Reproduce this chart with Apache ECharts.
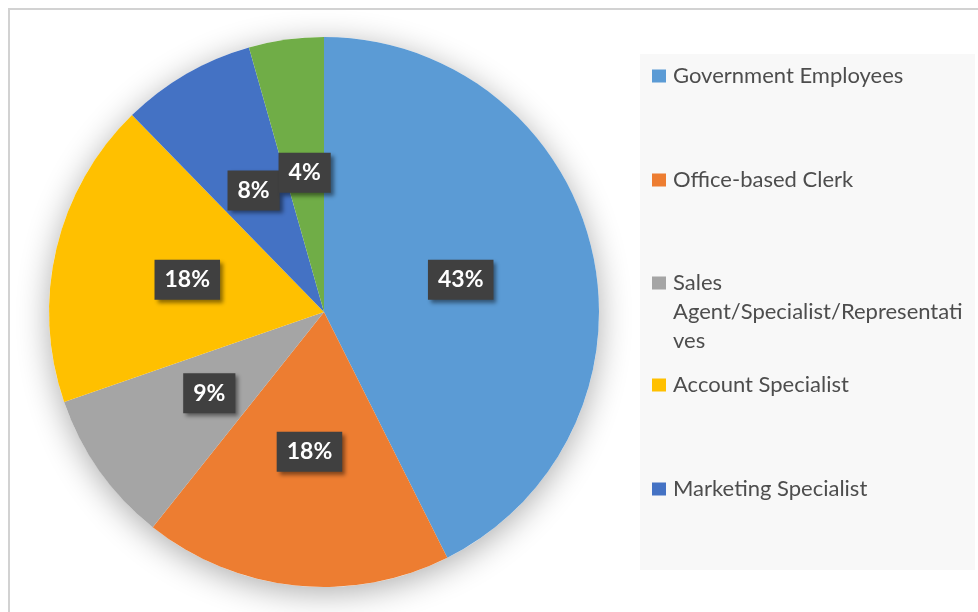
<!DOCTYPE html>
<html>
<head>
<meta charset="utf-8">
<script src="https://cdn.jsdelivr.net/npm/echarts@6/dist/echarts.min.js"></script>
<style>
  html, body { margin: 0; padding: 0; background: #fff; }
  #frame { position: absolute; left: 8px; top: 8px; width: 1000px; height: 640px; border: 2px solid #d2d2d2; box-sizing: border-box; }
  #chart { position: absolute; left: 0; top: 0; width: 978px; height: 612px; }
</style>
</head>
<body>
<div id="frame"></div>
<div id="chart"></div>
<script>
// ---- data ----
const categories = [
  'Government Employees',
  'Office-based Clerk',
  'Sales Agent/Specialist/Representatives',
  'Account Specialist',
  'Marketing Specialist',
  'Other'
];
const shares = [42.6, 18.1, 9.0, 18.0, 7.9, 4.4];
const colors = ['#5B9BD5', '#ED7D31', '#A5A5A5', '#FFC000', '#4472C4', '#70AD47'];
const legendNames = categories.slice(0, 5);
const legendDisplay = {
  'Sales Agent/Specialist/Representatives': '\n\nSales\nAgent/Specialist/Representati\nves'
};
const legendTops = [61.5, 165.5, 210.5, 370.5, 474.5];

const chart = echarts.init(document.getElementById('chart'), null, { renderer: 'canvas' });

const legends = legendNames.map((name, i) => ({
  data: [name],
  orient: 'vertical',
  left: 652,
  top: legendTops[i],
  padding: 0,
  itemWidth: 14,
  itemHeight: 13,
  icon: 'rect',
  selectedMode: false,
  formatter: (n) => legendDisplay[n] || n,
  textStyle: {
    fontFamily: 'Lato',
    fontSize: 22,
    color: '#4d4d4d',
    lineHeight: 29,
    padding: [0, 0, 0, 2]
  }
}));

const option = {
  backgroundColor: 'transparent',
  animation: false,
  color: colors,
  graphic: [{
    type: 'rect',
    shape: { x: 640, y: 54, width: 335, height: 516 },
    style: { fill: '#f8f8f8' },
    z: -10,
    silent: true
  }],
  legend: legends,
  series: [
    {
      type: 'pie',
      center: [324, 312],
      radius: 275,
      silent: true,
      z: 1,
      label: { show: false },
      labelLine: { show: false },
      itemStyle: {
        color: '#ffffff',
        shadowBlur: 32,
        shadowOffsetY: 6,
        shadowColor: 'rgba(0,0,0,0.32)'
      },
      data: [{ value: 1, name: '' }]
    },
    {
      type: 'pie',
      center: [324, 312],
      radius: 275,
      startAngle: 90,
      clockwise: true,
      z: 2,
      percentPrecision: 0,
      avoidLabelOverlap: false,
      labelLayout: { hideOverlap: false },
      itemStyle: { borderWidth: 0 },
      emphasis: { disabled: true },
      label: {
        show: true,
        position: 'inside',
        formatter: '{d}%',
        fontFamily: 'Lato',
        fontWeight: 'bold',
        fontSize: 23,
        lineHeight: 24,
        color: '#ffffff',
        backgroundColor: '#404040',
        padding: [8, 10],
        shadowColor: 'rgba(0,0,0,0.45)',
        shadowBlur: 4,
        shadowOffsetX: 3,
        shadowOffsetY: 3
      },
      labelLine: { show: false },
      data: categories.map((c, i) => ({ name: c, value: shares[i] }))
    }
  ]
};

chart.setOption(option);
</script>
</body>
</html>
